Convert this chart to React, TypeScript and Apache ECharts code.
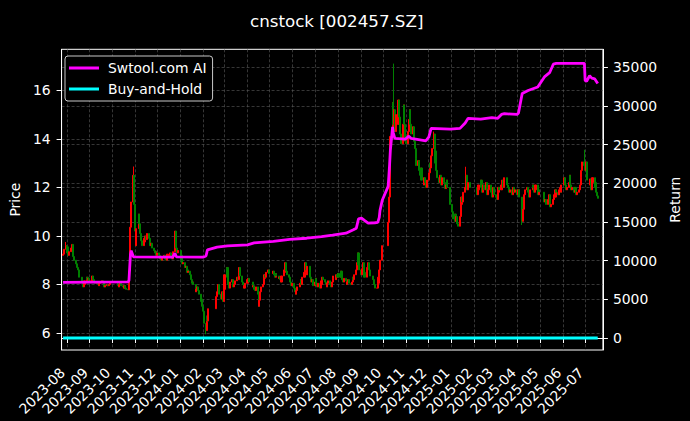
import React, { useEffect, useRef } from 'react';
import * as echarts from 'echarts';

const FONT = 'DejaVu Sans';

// Calendar range of the x axis and first/last trading day
const calendarStart = '2023-07-25';
const calendarEnd = '2025-07-25';
const firstDay = '2023-07-27';
const lastDay = '2025-07-18';

// Exchange holidays (weekdays without trading)
const holidays = [
  '2023-09-29', '2023-10-02', '2023-10-03', '2023-10-04', '2023-10-05', '2023-10-06',
  '2024-01-01', '2024-02-09', '2024-02-12', '2024-02-13', '2024-02-14', '2024-02-15', '2024-02-16',
  '2024-04-04', '2024-04-05', '2024-05-01', '2024-05-02', '2024-05-03', '2024-06-10',
  '2024-09-16', '2024-09-17', '2024-10-01', '2024-10-02', '2024-10-03', '2024-10-04', '2024-10-07',
  '2025-01-01', '2025-01-28', '2025-01-29', '2025-01-30', '2025-01-31', '2025-02-03', '2025-02-04',
  '2025-04-04', '2025-05-01', '2025-05-02', '2025-05-05', '2025-06-02',
];

const firstOpen = 9.2;

// Daily closing prices, one list per month (in trading-day order)
const closesByMonth: [string, number[]][] = [
  ['2023-07', [9.25, 9.45, 9.6]],
  ['2023-08', [9.55, 9.3, 9.2, 9.35, 9.5, 9.65, 9.3, 9.15, 9.0, 8.85, 8.7, 8.6, 8.45, 8.3, 8.2, 8.1, 7.9, 8.0, 8.15, 8.3, 8.2, 8.25, 8.1]],
  ['2023-09', [8.15, 8.35, 8.3, 8.2, 8.1, 8.05, 8.1, 8.0, 7.95, 8.05, 8.1, 8.15, 8.1, 8.0, 7.9, 7.95, 8.0, 7.95, 8.0, 8.05]],
  ['2023-10', [7.95, 7.9, 8.0, 8.05, 7.95, 7.9, 7.85, 7.95, 7.85, 7.8, 7.78, 8.56, 9.42, 10.36, 11.4, 12.5, 11.3]],
  ['2023-11', [10.2, 9.6, 10.3, 10.9, 10.5, 10.1, 9.8, 9.6, 9.75, 9.9, 10.0, 9.85, 10.1, 9.9, 9.75, 9.6, 9.7, 9.5, 9.4, 9.3, 9.35, 9.2]],
  ['2023-12', [9.3, 9.2, 9.05, 9.15, 9.0, 9.1, 9.2, 9.05, 9.0, 9.1, 9.25, 9.15, 9.3, 9.2, 9.05, 9.35, 10.2, 9.7, 9.5, 9.3, 9.4]],
  ['2024-01', [9.2, 9.0, 8.85, 8.9, 8.7, 8.75, 8.6, 8.5, 8.55, 8.4, 8.2, 8.05, 8.1, 8.0, 7.7, 7.8, 7.9, 7.75, 7.6, 7.4, 7.3, 7.1]],
  ['2024-02', [6.9, 6.4, 6.1, 6.7, 6.5, 7.0, 7.5, 7.7, 8.0, 7.8, 7.6, 7.4, 7.7, 7.3, 7.8]],
  ['2024-03', [8.4, 8.7, 8.3, 8.0, 7.85, 8.1, 8.2, 8.05, 7.9, 8.0, 8.15, 8.3, 8.2, 8.5, 8.7, 8.35, 8.1, 8.0, 7.85, 7.95, 8.05]],
  ['2024-04', [8.2, 8.25, 8.1, 7.9, 7.95, 7.8, 7.75, 7.9, 7.6, 7.1, 7.35, 7.7, 7.9, 8.0, 8.25, 8.4, 8.3, 8.5, 8.6, 8.45]],
  ['2024-05', [8.55, 8.4, 8.3, 8.45, 8.35, 8.25, 8.3, 8.2, 8.1, 8.35, 8.5, 8.6, 8.9, 8.55, 8.4, 8.3, 8.2, 8.1, 7.95, 8.05]],
  ['2024-06', [7.85, 7.7, 7.6, 7.75, 7.9, 8.05, 8.2, 8.0, 8.3, 8.5, 8.9, 8.6, 8.4, 8.75, 8.5, 8.3, 8.1, 8.2, 7.95]],
  ['2024-07', [8.1, 8.25, 8.0, 7.9, 8.05, 7.85, 8.0, 8.15, 8.3, 8.2, 8.1, 8.0, 7.9, 8.05, 8.15, 8.0, 7.9, 8.1, 8.25, 8.35, 8.2, 8.4, 8.3]],
  ['2024-08', [8.45, 8.3, 8.55, 8.3, 8.2, 8.1, 8.25, 8.15, 8.0, 8.1, 8.2, 8.05, 8.0, 8.1, 8.3, 8.2, 8.4, 8.6, 8.9, 9.3, 8.8, 8.6]],
  ['2024-09', [8.4, 8.65, 8.9, 8.5, 8.3, 8.45, 8.7, 8.9, 8.6, 8.35, 8.2, 8.0, 7.85, 7.85, 8.05, 8.3, 8.6, 9.0, 9.6]],
  ['2024-10', [10.56, 11.6, 12.8, 14.1, 15.5, 14.6, 15.2, 14.3, 15.0, 14.6, 15.6, 14.9, 14.2, 13.8, 14.6, 15.4, 14.6, 13.9]],
  ['2024-11', [13.8, 14.3, 14.8, 15.2, 14.6, 14.2, 14.5, 13.9, 13.6, 13.2, 12.9, 13.1, 12.7, 12.5, 12.8, 12.3, 12.1, 12.4, 12.2, 12.0, 12.3]],
  ['2024-12', [12.6, 13.0, 12.8, 13.3, 13.6, 14.2, 13.5, 13.0, 12.7, 12.4, 12.2, 12.5, 12.3, 12.1, 12.4, 12.2, 11.95, 12.1, 12.3, 12.0, 11.8, 11.3]],
  ['2025-01', [11.0, 10.7, 10.9, 10.6, 10.8, 10.5, 10.4, 10.8, 11.3, 11.6, 11.4, 11.8, 12.0, 12.5, 12.1, 11.9, 12.2, 12.0]],
  ['2025-02', [11.7, 11.9, 12.1, 12.3, 12.0, 11.8, 12.1, 11.9, 12.2, 12.0, 11.7, 11.9, 12.1, 11.8, 11.6, 11.9, 12.0, 11.7]],
  ['2025-03', [11.6, 11.5, 11.8, 12.0, 11.9, 12.1, 12.3, 12.0, 12.2, 12.4, 12.3, 12.1, 12.0, 11.8, 11.9, 11.7, 11.9, 12.0, 11.8, 11.9, 11.7]],
  ['2025-04', [11.8, 11.9, 11.6, 10.6, 11.1, 11.5, 11.7, 11.9, 12.0, 11.8, 11.6, 11.7, 11.9, 12.1, 12.0, 11.8, 11.9, 12.1, 11.9, 11.7, 11.8]],
  ['2025-05', [11.6, 11.4, 11.5, 11.3, 11.5, 11.7, 11.4, 11.2, 11.3, 11.5, 11.7, 11.6, 11.9, 11.8, 11.7, 11.9, 12.0, 11.8, 12.1]],
  ['2025-06', [12.4, 12.1, 11.9, 12.0, 12.2, 12.5, 12.1, 11.9, 12.0, 11.8, 12.0, 11.9, 11.7, 11.8, 11.9, 12.1, 12.4, 12.7, 13.05, 12.9]],
  ['2025-07', [12.7, 13.05, 12.6, 12.3, 12.1, 12.35, 11.9, 12.2, 12.4, 12.2, 12.0, 11.8, 11.65, 11.55]],
];

// Intraday extremes (wicks) that stick out beyond the candle bodies
const wickDates = ['2023-07-31', '2023-10-30', '2024-02-05', '2024-08-29', '2024-10-15', '2024-12-09', '2025-01-21', '2025-04-07', '2025-07-01'];
const wickPrices = [9.75, 12.86, 5.95, 9.32, 17.1, 14.3, 12.85, 10.45, 13.55];

// Strategy equity curve (right axis)
const aiDates = [
  '2023-07-27', '2023-10-23', '2023-10-24', '2023-10-26', '2023-10-27', '2023-10-30', '2023-12-22', '2023-12-25',
  '2023-12-27', '2024-02-01', '2024-02-05', '2024-02-07', '2024-02-20', '2024-03-05', '2024-04-01', '2024-04-10',
  '2024-05-06', '2024-05-28', '2024-06-20', '2024-07-10', '2024-07-25', '2024-08-12', '2024-08-22', '2024-08-26',
  '2024-08-29', '2024-09-02', '2024-09-06', '2024-09-11', '2024-09-20', '2024-09-24', '2024-09-26', '2024-09-27',
  '2024-09-30', '2024-10-08', '2024-10-09', '2024-10-10', '2024-10-11', '2024-10-14', '2024-10-15', '2024-10-17',
  '2024-10-31', '2024-11-05', '2024-11-08', '2024-11-28', '2024-12-02', '2024-12-05', '2024-12-31', '2025-01-13',
  '2025-01-20', '2025-01-24', '2025-02-10', '2025-02-25', '2025-03-05', '2025-03-10', '2025-03-14', '2025-03-31',
  '2025-04-02', '2025-04-07', '2025-04-15', '2025-04-28', '2025-05-07', '2025-05-14', '2025-05-19', '2025-05-23',
  '2025-06-30', '2025-07-01', '2025-07-03', '2025-07-07', '2025-07-10', '2025-07-14', '2025-07-18',
];
const aiValues = [
  7200, 7250, 7450, 10800, 11300, 10500, 10450, 10950,
  10500, 10450, 10600, 11400, 11750, 11900, 12050, 12300,
  12500, 12750, 12900, 13100, 13300, 13550, 14000, 14200,
  15400, 15500, 15200, 14850, 14900, 14950, 15600, 16500,
  17800, 19600, 21000, 22500, 24300, 27300, 26500, 25800,
  25700, 26100, 25800, 25500, 26000, 27100, 27000, 27100,
  27800, 28400, 28300, 28500, 28400, 28900, 29000, 28900,
  29100, 31600, 32000, 32450, 33750, 34300, 35400, 35500,
  35500, 33300, 33200, 33900, 33600, 33500, 32900,
];

// Buy-and-hold curve (right axis)
const bhDates = ['2023-07-27', '2023-10-31', '2024-02-05', '2024-06-03', '2024-10-15', '2025-01-02', '2025-04-01', '2025-07-18'];
const bhValues = [1.0, 1.22, 0.66, 0.85, 1.59, 1.2, 1.28, 1.26];

// Tick values
const priceTicks = [6, 8, 10, 12, 14, 16];
const returnTicks = [0, 5000, 10000, 15000, 20000, 25000, 30000, 35000];

function ymd(t: number) {
  return new Date(t).toISOString().slice(0, 10);
}

function buildCalendar() {
  const out: string[] = [];
  const s = Date.parse(calendarStart + 'T00:00:00Z');
  const e = Date.parse(calendarEnd + 'T00:00:00Z');
  for (let t = s; t <= e; t += 86400000) out.push(ymd(t));
  return out;
}

function isTradingDay(d: string) {
  const wd = new Date(d + 'T00:00:00Z').getUTCDay();
  return wd >= 1 && wd <= 5 && holidays.indexOf(d) < 0 && d >= firstDay && d <= lastDay;
}

function buildCandles(calendar: string[]) {
  const out: (string | number)[][] = [];
  let prev = firstOpen;
  for (const [month, closes] of closesByMonth) {
    const days = calendar.filter((d) => d.startsWith(month) && isTradingDay(d));
    const n = Math.min(days.length, closes.length);
    for (let i = 0; i < n; i++) {
      const o = prev;
      const c = closes[i];
      let lo = Math.min(o, c);
      let hi = Math.max(o, c);
      const wi = wickDates.indexOf(days[i]);
      if (wi >= 0) {
        const w = wickPrices[wi];
        if (w > hi) hi = w;
        if (w < lo) lo = w;
      }
      out.push([days[i], o, c, lo, hi]);
      prev = c;
    }
  }
  return out;
}

const isMonthStart = (_i: number, v: string) => typeof v === 'string' && v.slice(8, 10) === '01';

export default function App() {
  const ref = useRef<HTMLDivElement>(null);

  useEffect(() => {
    if (!ref.current) return;
    const chart = echarts.init(ref.current, undefined, { renderer: 'svg' });
    const calendar = buildCalendar();
    const candles = buildCandles(calendar);

    const gridLine = { show: true, lineStyle: { color: '#5a5a5a', type: [3, 2] as any, width: 0.6 } };

    chart.setOption({
      animation: false,
      backgroundColor: '#000000',
      title: {
        text: 'cnstock [002457.SZ]',
        left: 331.7,
        top: 7,
        textAlign: 'center',
        textStyle: { color: '#ffffff', fontSize: 16.7, fontWeight: 'normal', fontFamily: FONT },
      },
      legend: {
        data: ['Swtool.com AI', 'Buy-and-Hold'],
        orient: 'vertical',
        left: 65,
        top: 56,
        backgroundColor: '#000000',
        borderColor: '#c8c8c8',
        borderWidth: 1,
        borderRadius: 3,
        padding: [5, 6, 5, 4],
        itemWidth: 30,
        itemHeight: 3,
        itemGap: 7,
        icon: 'rect',
        textStyle: { color: '#ffffff', fontSize: 13.9, fontFamily: FONT, padding: [0, 0, 0, 4] },
      },
      grid: {
        left: 57.3,
        right: 83.3,
        top: 49.3,
        bottom: 71,
        show: true,
        borderColor: '#ffffff',
        borderWidth: 1,
        backgroundColor: '#000000',
      },
      xAxis: {
        type: 'category',
        data: calendar,
        boundaryGap: false,
        axisLine: { lineStyle: { color: '#ffffff', width: 1 } },
        axisTick: { interval: isMonthStart, length: 5, lineStyle: { color: '#ffffff' } },
        axisLabel: {
          interval: isMonthStart,
          formatter: (v: string) => v.slice(0, 7),
          rotate: 45,
          color: '#ffffff',
          fontSize: 13.9,
          fontFamily: FONT,
          margin: 16,
          padding: [0, 6, 0, 0],
        },
        splitLine: { ...gridLine, interval: isMonthStart },
      },
      yAxis: [
        {
          type: 'value',
          position: 'left',
          min: 5.3,
          max: 17.69,
          splitNumber: 6,
          name: 'Price',
          nameLocation: 'middle',
          nameGap: 35,
          nameRotate: 90,
          nameTextStyle: { color: '#ffffff', fontSize: 13.9, fontFamily: FONT },
          axisLine: { show: true, lineStyle: { color: '#ffffff' } },
          axisTick: { show: true, length: 5, customValues: priceTicks, lineStyle: { color: '#ffffff' } },
          axisLabel: {
            customValues: priceTicks,
            formatter: (v: number) => String(v),
            color: '#ffffff',
            fontSize: 13.9,
            fontFamily: FONT,
            margin: 11,
          },
          splitLine: gridLine,
        },
        {
          type: 'value',
          position: 'right',
          min: -1550,
          max: 37325,
          splitNumber: 8,
          name: 'Return',
          nameLocation: 'middle',
          nameGap: 56,
          nameRotate: 90,
          nameTextStyle: { color: '#ffffff', fontSize: 13.9, fontFamily: FONT },
          axisLine: { show: true, lineStyle: { color: '#ffffff' } },
          axisTick: { show: true, length: 5, customValues: returnTicks, lineStyle: { color: '#ffffff' } },
          axisLabel: {
            customValues: returnTicks,
            formatter: (v: number) => String(v),
            color: '#ffffff',
            fontSize: 13.9,
            fontFamily: FONT,
            margin: 10,
          },
          splitLine: gridLine,
        },
      ],
      series: [
        {
          type: 'candlestick',
          name: 'Price',
          yAxisIndex: 0,
          data: candles,
          encode: { x: 0, y: [1, 2, 3, 4] },
          barWidth: 1.6,
          itemStyle: {
            color: '#ff0000',
            color0: '#008000',
            borderColor: '#ff0000',
            borderColor0: '#008000',
            borderWidth: 1,
          },
        },
        {
          type: 'line',
          name: 'Swtool.com AI',
          yAxisIndex: 1,
          data: aiDates.map((d, i) => [d, aiValues[i]]),
          symbol: 'none',
          showSymbol: false,
          lineStyle: { color: '#ff00ff', width: 2.8 },
          itemStyle: { color: '#ff00ff' },
        },
        {
          type: 'line',
          name: 'Buy-and-Hold',
          yAxisIndex: 1,
          data: bhDates.map((d, i) => [d, bhValues[i]]),
          symbol: 'none',
          showSymbol: false,
          lineStyle: { color: '#00ffff', width: 2.8 },
          itemStyle: { color: '#00ffff' },
        },
      ],
    });

    return () => chart.dispose();
  }, []);

  return (
    <div
      ref={ref}
      style={{ position: 'fixed', left: 0, top: 0, width: 690, height: 421, background: '#000' }}
    />
  );
}
